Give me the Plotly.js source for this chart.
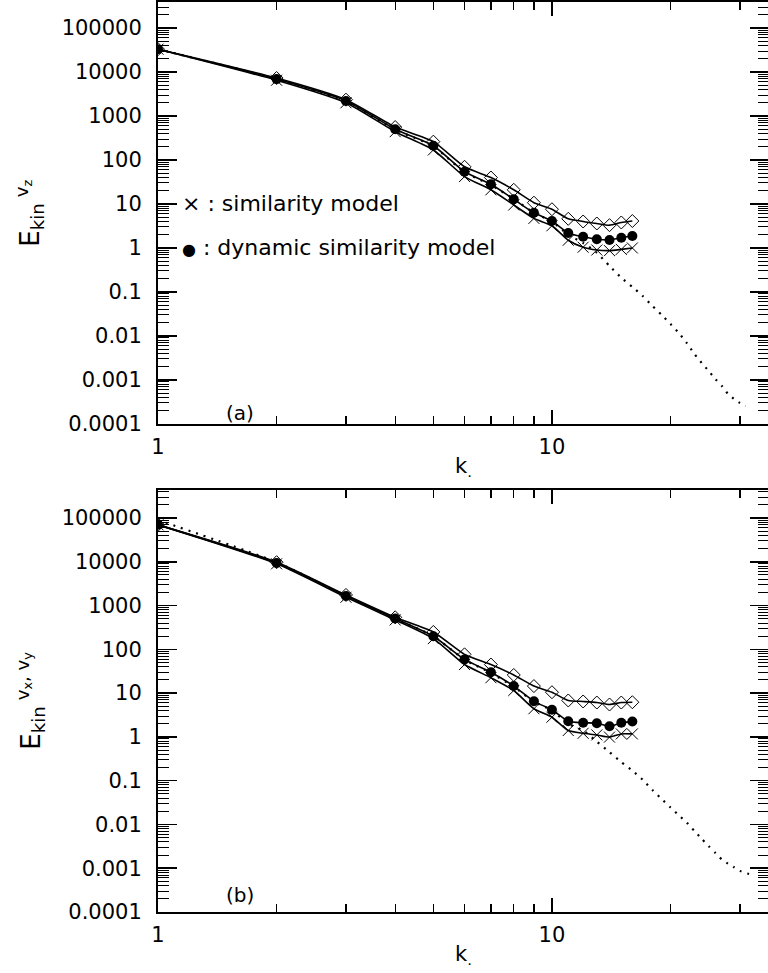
<!DOCTYPE html>
<html>
<head>
<meta charset="utf-8">
<script src="https://cdn.plot.ly/plotly-3.0.1.min.js"></script>
<style>
  html, body { margin: 0; padding: 0; overflow: hidden; background: #fff; }
</style>
</head>
<body>
<div id="chart" style="width:770px;height:973px"></div>
<script>
// Wavenumbers
const kModel = [1, 2, 3, 4, 5, 6, 7, 8, 9, 10, 11, 12, 13, 14, 15, 16];
const kRefA = [1, 2, 3, 4, 5, 6, 7, 8, 9, 10, 11, 12, 13, 14, 15, 16, 17, 18, 19, 20,
               21, 22, 23, 24, 25, 26, 27, 28, 29, 30, 31];
const kRefB = [1, 2, 3, 4, 5, 6, 7, 8, 9, 10, 11, 12, 13, 14, 15, 16, 17, 18, 19, 20,
               21, 22, 23, 24, 25, 26, 27, 28, 29, 30, 31, 32];

// (a) E_kin of v_z
const aOpen = [33000, 7300, 2350, 560, 261, 70, 40, 21, 10.7, 7.6, 4.6, 4.0, 3.6, 3.3, 3.8, 4.1];
const aDyn  = [33000, 6900, 2200, 500, 211, 54, 28, 12.8, 6.3, 4.1, 2.2, 1.8, 1.58, 1.52, 1.71, 1.87];
const aSim  = [33000, 6500, 2000, 440, 169, 42, 21, 9.5, 4.7, 3.2, 1.5, 1.04, 0.9, 0.87, 0.93, 1.0];
const aRef  = [33000, 6900, 2150, 490, 205, 53, 27, 13, 6.3, 4.0, 2.0, 1.3, 0.78, 0.39, 0.21, 0.13,
               0.081, 0.048, 0.030, 0.0187, 0.0117, 0.0069, 0.0039, 0.00243, 0.0016, 0.00105,
               0.00073, 0.00048, 0.00037, 0.0003, 0.000256];

// (b) E_kin of v_x, v_y
const bOpen = [70000, 9800, 1750, 540, 250, 77, 45, 26, 14.5, 10.5, 6.8, 6.45, 6.1, 5.5, 6.1, 6.2];
const bDyn  = [70000, 9400, 1660, 505, 199, 59, 30, 14.5, 6.5, 4.16, 2.28, 2.1, 2.06, 1.75, 2.1, 2.24];
const bSim  = [70000, 9000, 1550, 470, 176, 45, 22.5, 11.5, 4.4, 2.82, 1.4, 1.21, 1.11, 0.99, 1.17, 1.17];
const bRef  = [90000, 9800, 1650, 500, 200, 58, 29, 14, 6.4, 4.0, 2.0, 1.40, 0.78, 0.45, 0.265, 0.17,
               0.105, 0.061, 0.038, 0.0244, 0.0162, 0.011, 0.0071, 0.0047, 0.0032, 0.00223,
               0.00158, 0.00127, 0.00105, 0.00087, 0.00078, 0.00072];

// Tick labels
const yTickVals = [1e-4, 1e-3, 1e-2, 1e-1, 1, 10, 100, 1000, 10000, 100000];
const yTickText = ['0.0001', '0.001', '0.01', '0.1', '1', '10', '100', '1000', '10000', '100000'];
const xTickVals = [1, 10];
const xTickText = ['1', '10'];

const FONT = 'DejaVu Sans';
const BLACK = '#000';

// log-axis minor ticks at 2..9 of each decade
function minorLog(lo, hi) {
  const out = [];
  for (let d = lo; d <= hi; d++) {
    for (let m = 2; m <= 9; m++) out.push(m * Math.pow(10, d));
  }
  return out;
}

function curve(x, y, xa, ya, kind) {
  const base = { x: x, y: y, xaxis: xa, yaxis: ya, type: 'scatter', showlegend: false,
                 line: { color: BLACK, width: 1.6, shape: 'spline', smoothing: 0.6 } };
  if (kind === 'ref') {
    base.mode = 'lines';
    base.line = { color: BLACK, width: 2.2, dash: '2px,6px', shape: 'spline', smoothing: 0.6 };
  } else if (kind === 'open') {
    base.mode = 'lines+markers';
    base.marker = { symbol: 'diamond-open', size: 10, color: BLACK, line: { width: 1, color: BLACK } };
  } else if (kind === 'dyn') {
    base.mode = 'lines+markers';
    base.marker = { symbol: 'circle', size: 10, color: BLACK };
  } else {
    base.mode = 'lines+markers';
    base.marker = { symbol: 'x-thin-open', size: 11, color: BLACK, line: { width: 1, color: BLACK } };
  }
  return base;
}

const traces = [
  curve(kRefA, aRef, 'x', 'y', 'ref'),
  curve(kModel, aOpen, 'x', 'y', 'open'),
  curve(kModel, aSim, 'x', 'y', 'sim'),
  curve(kModel, aDyn, 'x', 'y', 'dyn'),
  curve(kRefB, bRef, 'x2', 'y2', 'ref'),
  curve(kModel, bOpen, 'x2', 'y2', 'open'),
  curve(kModel, bSim, 'x2', 'y2', 'sim'),
  curve(kModel, bDyn, 'x2', 'y2', 'dyn')
];

function xAxis(anchor) {
  return {
    type: 'log', anchor: anchor, domain: [0, 1], range: [0, 1.551],
    tickmode: 'array', tickvals: xTickVals, ticktext: xTickText,
    ticks: 'inside', ticklen: 14, tickwidth: 1.5, tickcolor: BLACK,
    minor: { tickmode: 'array', tickvals: [2, 3, 4, 5, 6, 7, 8, 9, 20, 30],
             ticks: 'inside', ticklen: 8, tickwidth: 1.2, tickcolor: BLACK },
    showline: true, linewidth: 2, linecolor: BLACK, mirror: 'ticks',
    showgrid: false, zeroline: false, ticklabelstandoff: 3,
    tickfont: { family: FONT, size: 21, color: BLACK },
    title: { text: 'k<sub>.</sub>', font: { family: FONT, size: 21, color: BLACK }, standoff: 0 }
  };
}

function yAxis(anchor, domain, top) {
  return {
    type: 'log', anchor: anchor, domain: domain, range: [-4, top],
    tickmode: 'array', tickvals: yTickVals, ticktext: yTickText,
    ticks: 'inside', ticklen: 19, tickwidth: 1.5, tickcolor: BLACK,
    minor: { tickmode: 'array', tickvals: minorLog(-4, 5),
             ticks: 'inside', ticklen: 11, tickwidth: 1, tickcolor: BLACK },
    showline: true, linewidth: 2, linecolor: BLACK, mirror: 'ticks',
    showgrid: false, zeroline: false, ticklabelstandoff: 10,
    tickfont: { family: FONT, size: 21, color: BLACK }
  };
}

const txt = (s) => ({ family: FONT, size: s, color: BLACK });

const layout = {
  width: 770, height: 973,
  margin: { l: 158, r: 1, t: 2, b: 61 },
  paper_bgcolor: '#fff', plot_bgcolor: '#fff',
  xaxis: xAxis('y'),
  yaxis: yAxis('x', [0.5363, 1], 5.591),
  xaxis2: xAxis('y2'),
  yaxis2: yAxis('x2', [0, 0.4637], 5.64),
  annotations: [
    { xref: 'x domain', yref: 'y domain', x: 0.134, y: 0.026, text: '(a)',
      showarrow: false, font: txt(20), xanchor: 'center', yanchor: 'middle' },
    { xref: 'x2 domain', yref: 'y2 domain', x: 0.134, y: 0.04, text: '(b)',
      showarrow: false, font: txt(20), xanchor: 'center', yanchor: 'middle' },
    { xref: 'x domain', yref: 'y', x: 0.036, y: 1, text: '× : similarity model',
      showarrow: false, font: txt(22), xanchor: 'left', yanchor: 'middle' },
    { xref: 'x domain', yref: 'y', x: 0.036, y: 0,
      text: '<span style="font-size:16px">●</span> : dynamic similarity model',
      showarrow: false, font: txt(22), xanchor: 'left', yanchor: 'middle' },
    { xref: 'paper', yref: 'y domain', x: -0.21, y: 0.5, textangle: -90,
      text: 'E<sub>kin</sub><sup> v<sub>z</sub></sup>',
      showarrow: false, font: txt(26), xanchor: 'center', yanchor: 'middle' },
    { xref: 'paper', yref: 'y2 domain', x: -0.21, y: 0.5, textangle: -90,
      text: 'E<sub>kin</sub><sup> v<sub>x</sub>, v<sub>y</sub></sup>',
      showarrow: false, font: txt(26), xanchor: 'center', yanchor: 'middle' }
  ]
};

Plotly.newPlot('chart', traces, layout, { staticPlot: true, displayModeBar: false });
</script>
</body>
</html>
